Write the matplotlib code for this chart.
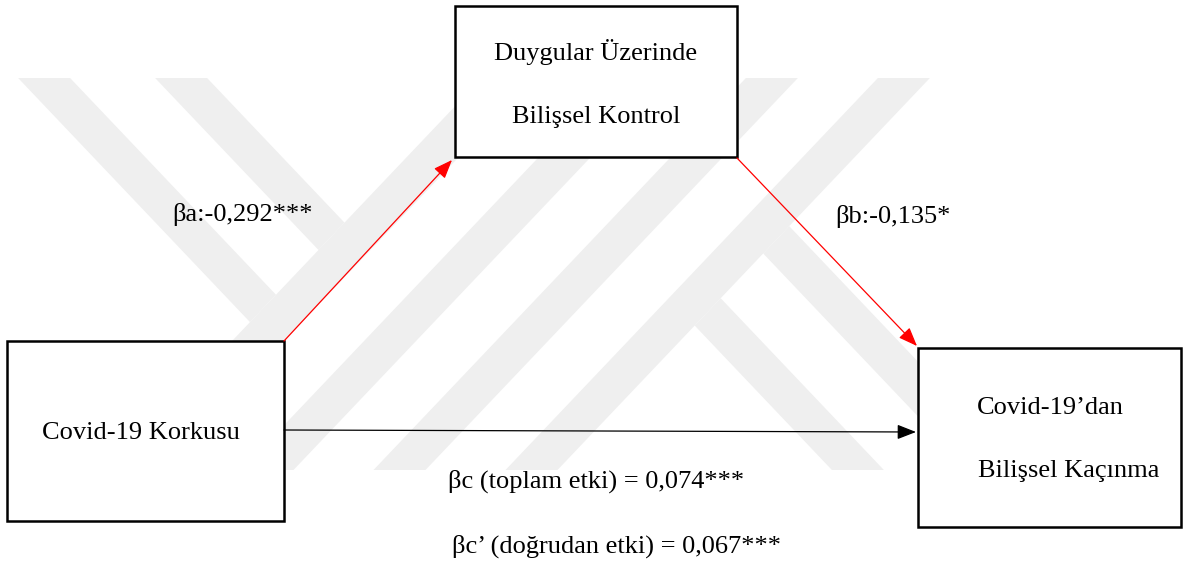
import matplotlib
matplotlib.use("Agg")
import matplotlib.pyplot as plt
from matplotlib.patches import Rectangle, Polygon, FancyArrowPatch

# ---------------- data ----------------
node_mediator = ["Duygular Üzerinde", "Bilişsel Kontrol"]
node_x = ["Covid-19 Korkusu"]
node_y = ["Covid-19’dan", "Bilişsel Kaçınma"]
path_names = ["βa", "βb", "βc (toplam etki)", "βc’ (doğrudan etki)"]
path_values = ["-0,292***", "-0,135*", "0,074***", "0,067***"]

# ---------------- figure ----------------
W, H = 1189, 565
fig = plt.figure(figsize=(W / 100, H / 100), dpi=100)
ax = fig.add_axes([0, 0, 1, 1])
ax.set_xlim(0, W)
ax.set_ylim(H, 0)
ax.axis("off")

FONT = "Liberation Serif"
FS = 19

# ---------------- faint watermark (stripes) ----------------
s, w = 0.95, 52
y_top, y_bot = 78, 470
wm_color = "#efefef"


def slash(k):
    # "/" band: left edge x + s*y = k
    return [(k - s * y_top, y_top), (k + w - s * y_top, y_top),
            (k + w - s * y_bot, y_bot), (k - s * y_bot, y_bot)]


def arm(k, stop):
    # "\" band with left edge x - s*y = k, cut by line x + s*y = stop (upper-left arms)
    def cut(kk):
        y = (stop - kk) / (2 * s)
        return (kk + s * y, y)
    return [(k + s * y_top, y_top), (k + w + s * y_top, y_top), cut(k + w), cut(k)]


def leg(k, start):
    # "\" band with left edge x - s*y = k, starting at line x + s*y = start (lower-right legs)
    def cut(kk):
        y = (start - kk) / (2 * s)
        return (kk + s * y, y)
    return [cut(k), cut(k + w), (k + w + s * y_bot, y_bot), (k + s * y_bot, y_bot)]


for k in [556, 688, 820, 952]:
    ax.add_patch(Polygon(slash(k), closed=True, fc=wm_color, ec="none", zorder=0))
for k in [-56, 81]:
    ax.add_patch(Polygon(arm(k, 556), closed=True, fc=wm_color, ec="none", zorder=0))
for k in [385.4, 522.4]:
    ax.add_patch(Polygon(leg(k, 1004), closed=True, fc=wm_color, ec="none", zorder=0))

# ---------------- boxes ----------------
boxes = {
    "m": (455, 6, 282, 151),
    "x": (7, 341, 277, 180),
    "y": (918, 348, 263, 179),
}
for (bx, by, bw, bh) in boxes.values():
    ax.add_patch(Rectangle((bx, by), bw, bh, fc="white", ec="black", lw=1.8, zorder=2))

# box texts
ax.text(596, 52, node_mediator[0], fontsize=FS, family=FONT, ha="center", va="center", zorder=3)
ax.text(596, 117, node_mediator[1], fontsize=FS, family=FONT, ha="center", va="center", zorder=3)
ax.text(141, 433, node_x[0], fontsize=FS, family=FONT, ha="center", va="center", zorder=3)
ax.text(977, 408, node_y[0], fontsize=FS, family=FONT, ha="left", va="center", zorder=3)
ax.text(978, 471, node_y[1], fontsize=FS, family=FONT, ha="left", va="center", zorder=3)

# ---------------- arrows ----------------
def arrow(p0, p1, color):
    ax.add_patch(FancyArrowPatch(p0, p1, arrowstyle="-|>,head_length=1.15,head_width=0.45",
                                 mutation_scale=10, color=color, lw=0.9,
                                 shrinkA=0, shrinkB=0, zorder=4))

arrow((284, 341), (452, 160), "red")
arrow((737, 158), (917, 346), "red")
arrow((284, 430), (916, 432), "black")

# ---------------- path labels ----------------
ax.text(172, 214, f"{path_names[0]}:{path_values[0]}", fontsize=FS, family=FONT,
        ha="left", va="center", zorder=3)
ax.text(835, 216, f"{path_names[1]}:{path_values[1]}", fontsize=FS, family=FONT,
        ha="left", va="center", zorder=3)
ax.text(448, 481, f"{path_names[2]} = {path_values[2]}", fontsize=FS, family=FONT,
        ha="left", va="center", zorder=3)
ax.text(452, 546, f"{path_names[3]} = {path_values[3]}", fontsize=FS, family=FONT,
        ha="left", va="center", zorder=3)

fig.savefig("out.png", dpi=100, facecolor="white")
